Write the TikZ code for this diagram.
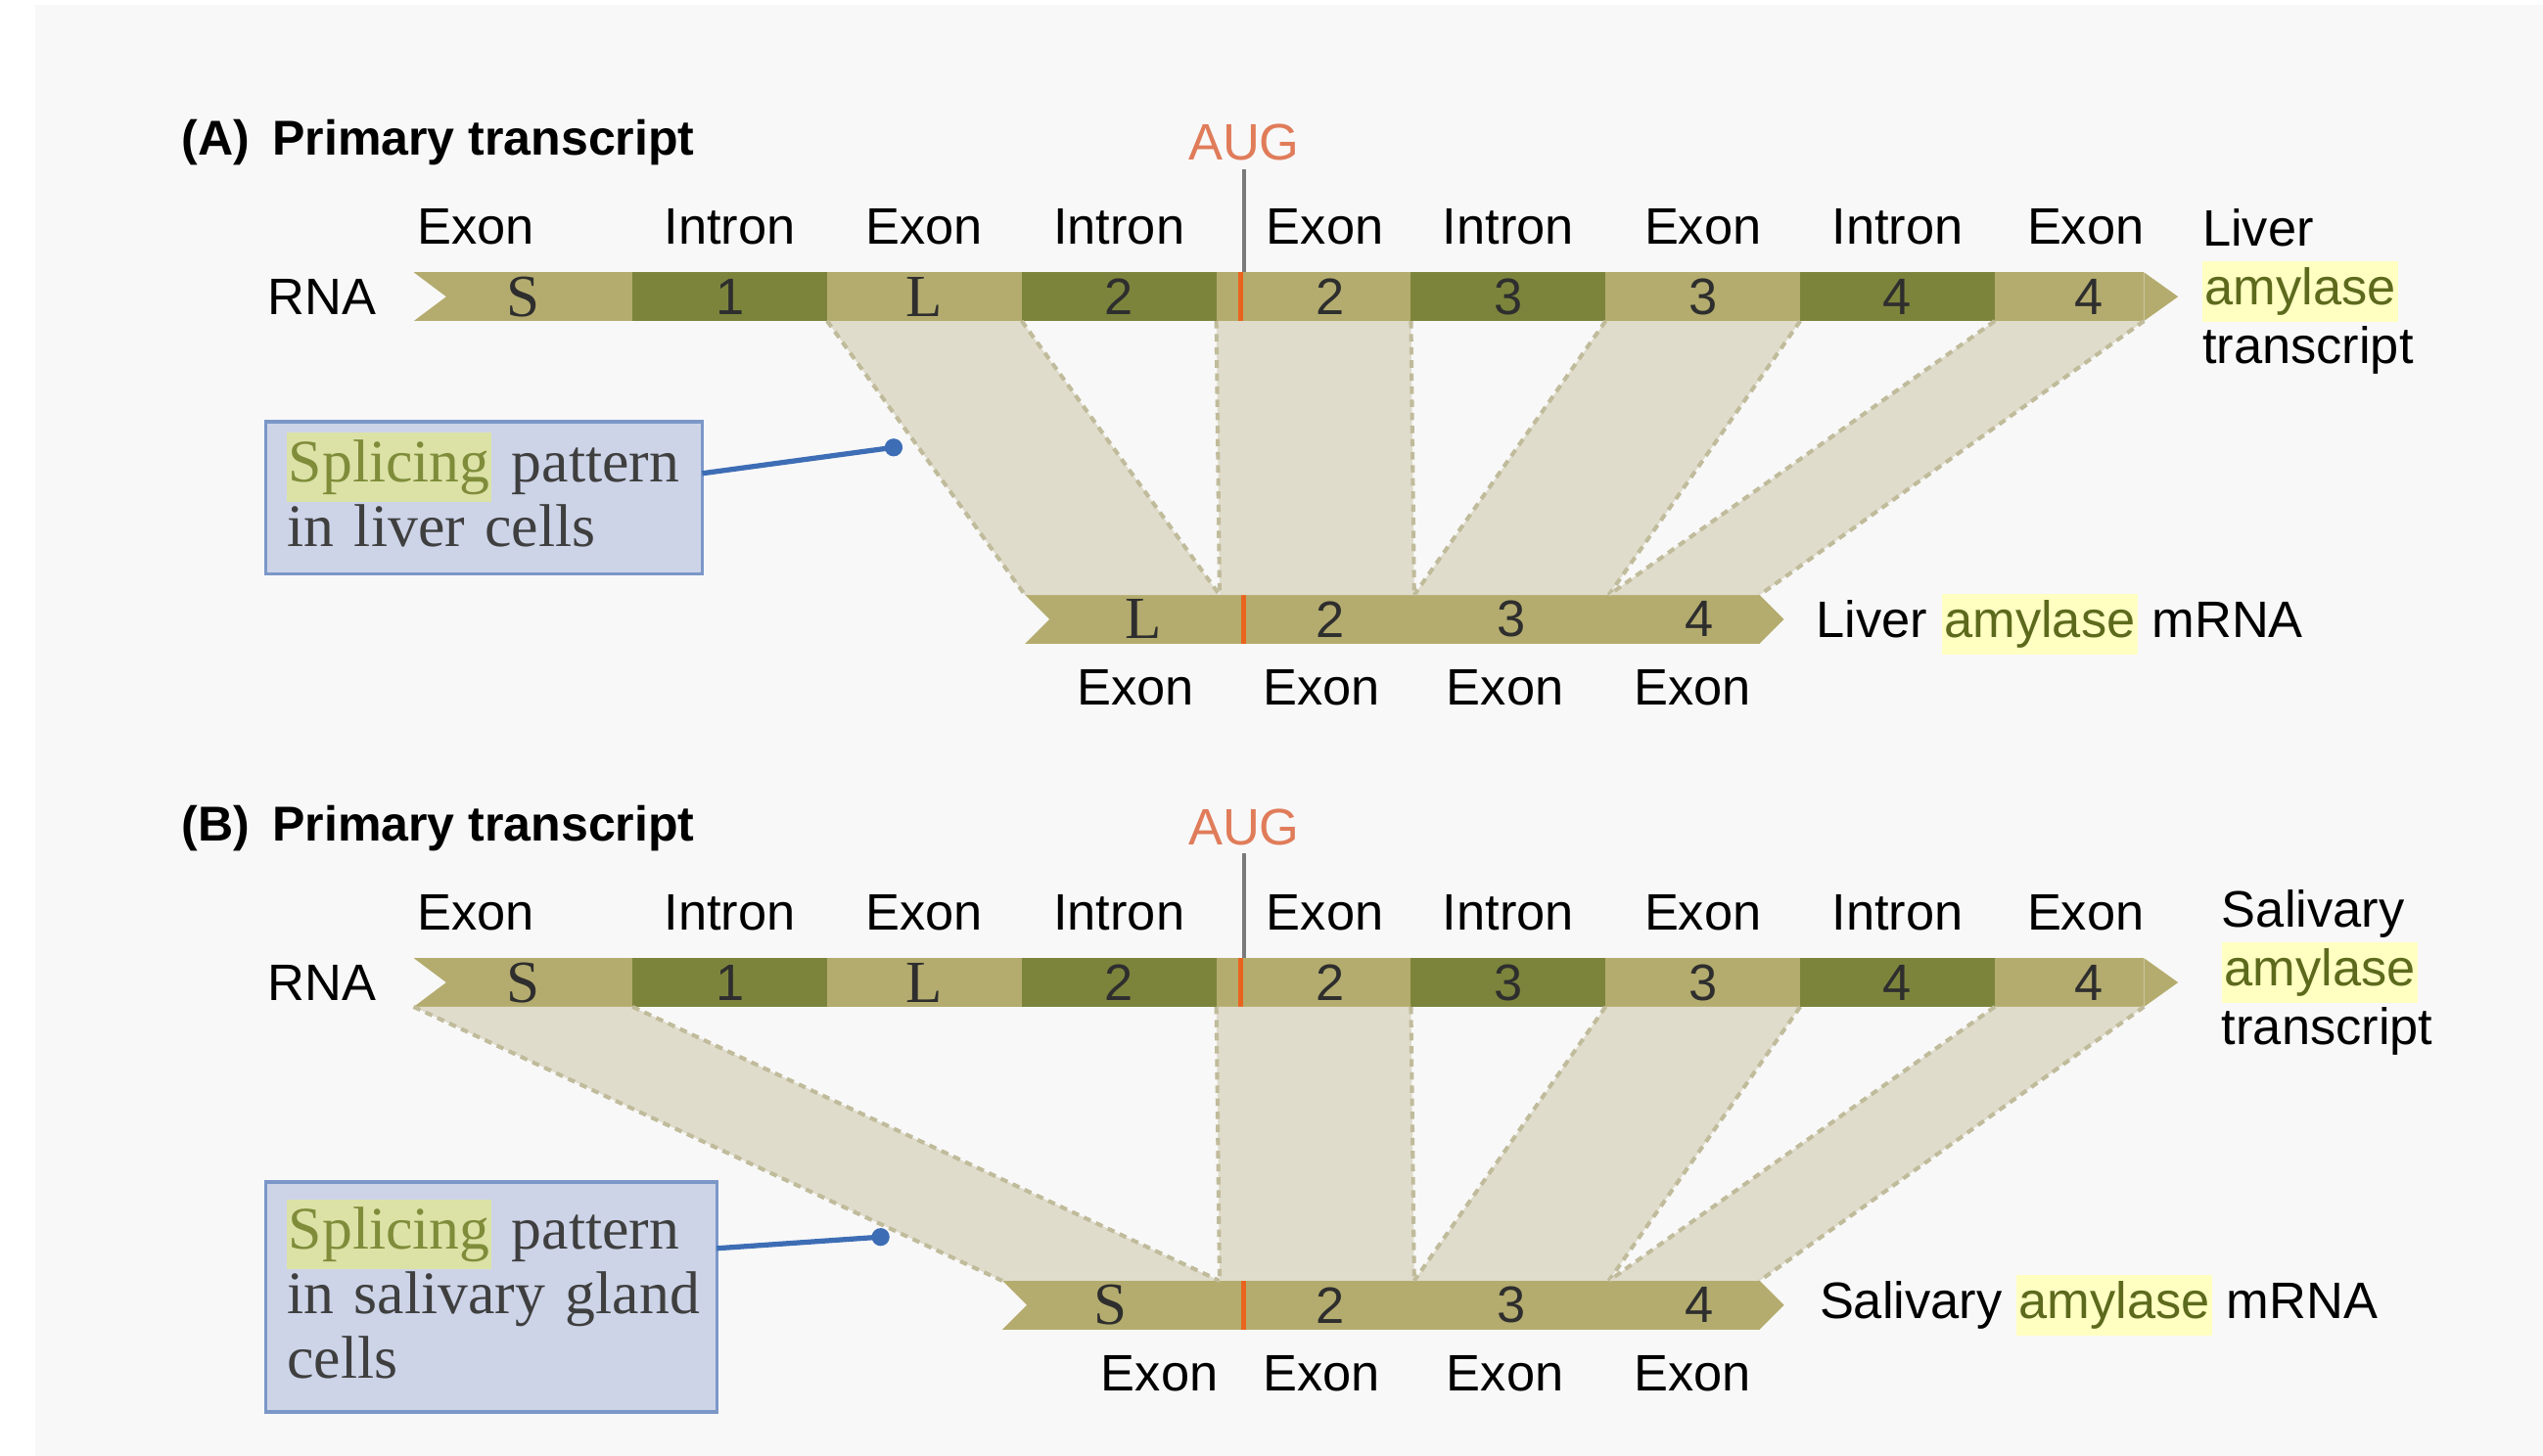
\documentclass[tikz,border=0pt]{standalone}
\usepackage{fontspec}
\setmainfont{Liberation Serif}
\setsansfont{Liberation Sans}
\usepackage{xcolor}
\usepackage{tikz}
\usetikzlibrary{positioning}
\definecolor{panelbg}{RGB}{248,248,248}
\definecolor{exontan}{RGB}{180,172,110}
\definecolor{intronolive}{RGB}{124,132,60}
\definecolor{bartext}{RGB}{46,46,46}
\definecolor{bandfill}{RGB}{223,220,203}
\definecolor{bandedge}{RGB}{192,187,155}
\definecolor{tickorange}{RGB}{232,100,30}
\definecolor{augred}{RGB}{224,124,90}
\definecolor{augline}{RGB}{122,122,122}
\definecolor{boxfill}{RGB}{205,212,232}
\definecolor{boxedge}{RGB}{123,151,200}
\definecolor{boxtext}{RGB}{63,63,63}
\definecolor{linkblue}{RGB}{61,109,181}
\definecolor{splhl}{RGB}{220,226,166}
\definecolor{spltext}{RGB}{127,140,58}
\definecolor{amyfill}{RGB}{255,255,194}
\definecolor{amytext}{RGB}{93,106,29}
\newcommand{\amyl}{\smash{{\setlength{\fboxsep}{0.4mm}\colorbox{amyfill}{\hspace*{-0.25mm}\textcolor{amytext}{amylase}\hspace*{-0.25mm}}}}}
\newcommand{\splword}{\smash{{\setlength{\fboxsep}{0.45mm}\colorbox{splhl}{\hspace*{-0.35mm}\textcolor{spltext}{Splicing}\hspace*{-0.35mm}}}}}
\newcommand{\exonletter}[1]{{\rmfamily\fontsize{10.5}{10}\selectfont #1}}
\newcommand{\splicebridge}[2]{%
 \fill[band] (#1.south west) -- (#1.south east) -- (#2.north east) -- (#2.north west) -- cycle;
 \draw[bandline] (#1.south west) -- (#2.north west) (#1.south east) -- (#2.north east);}

\begin{document}
\begin{tikzpicture}[x=0.1mm, y=-0.1mm, node distance=0pt,
 every node/.style={inner sep=0pt, outer sep=0pt},
 exon/.style={fill=exontan, minimum height=3mm, minimum width=12mm, text=bartext, font=\sffamily\fontsize{9}{10}\selectfont},
 intron/.style={exon, fill=intronolive},
 band/.style={fill=bandfill},
 bandline/.style={draw=bandedge, line width=0.7pt, dash pattern=on 1.3pt off 1pt},
 lbl/.style={font=\sffamily\fontsize{9}{10.3}\selectfont},
 paneltitle/.style={font=\sffamily\bfseries\fontsize{8.6}{10}\selectfont, anchor=west},
 aug/.style={font=\sffamily\fontsize{9}{10}\selectfont, text=augred},
 augtick/.style={draw=tickorange, line width=0.9pt},
 note/.style={draw=boxedge, line width=0.6pt, fill=boxfill, text=boxtext, align=left, inner xsep=1.3mm, anchor=north west, font=\fontsize{10.6}{11.4}\selectfont},
 link/.style={draw=linkblue, line width=0.9pt}]
\useasboundingbox (0,0) rectangle (1568,898);
\fill[panelbg] (22,3) rectangle (1568,898);

% (A) liver
\node[paneltitle] (headA) at (112,88) {(A)\hspace{1.4mm}Primary transcript};
\node[aug] (augA) at (767,88) {AUG};
\node[exon, minimum width=13.5mm, anchor=west] (aS) at (255,183) {\exonletter{S}};
\node[intron, right=of aS] (ai1) {1};
\node[exon, right=of ai1] (aL) {\exonletter{L}};
\node[intron, right=of aL] (ai2) {2};
\node[exon, right=of ai2] (aE2) {\hspace{2mm}2};
\node[intron, right=of aE2] (ai3) {3};
\node[exon, right=of ai3] (aE3) {3};
\node[intron, right=of aE3] (ai4) {4};
\node[exon, minimum width=9.2mm, right=of ai4] (aE4) {\hspace{2.4mm}4};
\fill[panelbg] (aS.north west) -- ([xshift=2mm]aS.west) -- (aS.south west) -- cycle;
\fill[exontan] (aE4.north east) -- ([xshift=2.1mm]aE4.east) -- (aE4.south east) -- cycle;
\draw[augtick] ([xshift=1.5mm]aE2.north west) -- ([xshift=1.5mm]aE2.south west);
\draw[augline, line width=0.6pt] ([yshift=-0.5mm]augA.south) -- (augA.south |- aE2.north);
\node[lbl, left=2.3mm of aS] (rnaA) {RNA};
\node[lbl, above=1.7mm of aS, xshift=-2.9mm] (tA1) {Exon};
\node[lbl, above=1.7mm of ai1] (tA2) {Intron};
\node[lbl, above=1.7mm of aL] (tA3) {Exon};
\node[lbl, above=1.7mm of ai2] (tA4) {Intron};
\node[lbl, above=1.7mm of aE2, xshift=0.7mm] (tA5) {Exon};
\node[lbl, above=1.7mm of ai3] (tA6) {Intron};
\node[lbl, above=1.7mm of aE3] (tA7) {Exon};
\node[lbl, above=1.7mm of ai4] (tA8) {Intron};
\node[lbl, above=1.7mm of aE4, xshift=1mm] (tA9) {Exon};
\node[lbl, anchor=west, align=left] (trA) at (1358,180) {Liver\\\amyl\\transcript};

\node[exon, anchor=west] (mL) at (632,382) {\hspace{2.6mm}\exonletter{L}};
\node[exon, right=of mL] (m2) {\hspace{1.6mm}2};
\node[exon, right=of m2] (m3) {3};
\node[exon, minimum width=9.3mm, right=of m3] (m4) {\hspace{1.8mm}4};
\fill[panelbg] (mL.north west) -- ([xshift=1.5mm]mL.west) -- (mL.south west) -- cycle;
\fill[exontan] (m4.north east) -- ([xshift=1.5mm]m4.east) -- (m4.south east) -- cycle;
\draw[augtick] ([xshift=1.5mm]m2.north west) -- ([xshift=1.5mm]m2.south west);
\node[lbl, right=3.5mm of m4] (mrnaA) {Liver \amyl\ mRNA};
\node[lbl, below=1.6mm of mL, xshift=0.8mm] (bA1) {Exon};
\node[lbl, below=1.6mm of m2, xshift=0.3mm] (bA2) {Exon};
\node[lbl, below=1.6mm of m3, xshift=-0.4mm] (bA3) {Exon};
\node[lbl, below=1.6mm of m4, xshift=0.5mm] (bA4) {Exon};

\splicebridge{aL}{mL}
\splicebridge{aE2}{m2}
\splicebridge{aE3}{m3}
\splicebridge{aE4}{m4}

\node[note, text width=24.3mm, minimum height=9.4mm] (noteA) at (164,260) {\mbox{\splword{} pattern}\\\mbox{in liver cells}};
\coordinate (dotA) at (551,276);
\draw[link] ([yshift=1.5mm]noteA.east) -- (dotA);
\fill[linkblue] (dotA) circle (0.55mm);

% (B) salivary gland
\node[paneltitle] (headB) at (112,511) {(B)\hspace{1.4mm}Primary transcript};
\node[aug] (augB) at (767,510) {AUG};
\node[exon, minimum width=13.5mm, anchor=west] (bS) at (255,606) {\exonletter{S}};
\node[intron, right=of bS] (bi1) {1};
\node[exon, right=of bi1] (bL) {\exonletter{L}};
\node[intron, right=of bL] (bi2) {2};
\node[exon, right=of bi2] (bE2) {\hspace{2mm}2};
\node[intron, right=of bE2] (bi3) {3};
\node[exon, right=of bi3] (bE3) {3};
\node[intron, right=of bE3] (bi4) {4};
\node[exon, minimum width=9.2mm, right=of bi4] (bE4) {\hspace{2.4mm}4};
\fill[panelbg] (bS.north west) -- ([xshift=2mm]bS.west) -- (bS.south west) -- cycle;
\fill[exontan] (bE4.north east) -- ([xshift=2.1mm]bE4.east) -- (bE4.south east) -- cycle;
\draw[augtick] ([xshift=1.5mm]bE2.north west) -- ([xshift=1.5mm]bE2.south west);
\draw[augline, line width=0.6pt] ([yshift=-0.5mm]augB.south) -- (augB.south |- bE2.north);
\node[lbl, left=2.3mm of bS] (rnaB) {RNA};
\node[lbl, above=1.7mm of bS, xshift=-2.9mm] (tB1) {Exon};
\node[lbl, above=1.7mm of bi1] (tB2) {Intron};
\node[lbl, above=1.7mm of bL] (tB3) {Exon};
\node[lbl, above=1.7mm of bi2] (tB4) {Intron};
\node[lbl, above=1.7mm of bE2, xshift=0.7mm] (tB5) {Exon};
\node[lbl, above=1.7mm of bi3] (tB6) {Intron};
\node[lbl, above=1.7mm of bE3] (tB7) {Exon};
\node[lbl, above=1.7mm of bi4] (tB8) {Intron};
\node[lbl, above=1.7mm of bE4, xshift=1mm] (tB9) {Exon};
\node[lbl, anchor=west, align=left] (trB) at (1370,600) {Salivary\\\amyl\\transcript};

\node[exon, minimum width=13.4mm, anchor=west] (nS) at (618,805) {\exonletter{S}};
\node[exon, right=of nS] (n2) {\hspace{1.6mm}2};
\node[exon, right=of n2] (n3) {3};
\node[exon, minimum width=9.3mm, right=of n3] (n4) {\hspace{1.8mm}4};
\fill[panelbg] (nS.north west) -- ([xshift=1.5mm]nS.west) -- (nS.south west) -- cycle;
\fill[exontan] (n4.north east) -- ([xshift=1.5mm]n4.east) -- (n4.south east) -- cycle;
\draw[augtick] ([xshift=1.5mm]n2.north west) -- ([xshift=1.5mm]n2.south west);
\node[lbl, right=3.7mm of n4] (mrnaB) {Salivary \amyl\ mRNA};
\node[lbl, below=1.6mm of nS, xshift=3mm] (bB1) {Exon};
\node[lbl, below=1.6mm of n2, xshift=0.3mm] (bB2) {Exon};
\node[lbl, below=1.6mm of n3, xshift=-0.4mm] (bB3) {Exon};
\node[lbl, below=1.6mm of n4, xshift=0.5mm] (bB4) {Exon};

\splicebridge{bS}{nS}
\splicebridge{bE2}{n2}
\splicebridge{bE3}{n3}
\splicebridge{bE4}{n4}

\node[note, text width=25.2mm, minimum height=14.2mm] (noteB) at (164,729) {\mbox{\splword{} pattern}\\\mbox{in salivary gland}\\cells};
\coordinate (dotB) at (543,763);
\draw[link] ([yshift=3mm]noteB.east) -- (dotB);
\fill[linkblue] (dotB) circle (0.55mm);
\end{tikzpicture}
\end{document}
